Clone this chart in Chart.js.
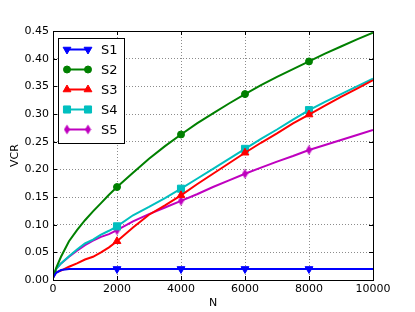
<!DOCTYPE html>
<html>
<head>
<meta charset="utf-8">
<script src="https://cdn.jsdelivr.net/npm/chart.js"></script>
<style>
    body { margin: 0; background: #fff; }
    #wrap { width: 415px; height: 312px; }
</style>
</head>
<body>
<div id="wrap"><canvas id="vcrChart" width="415" height="312"></canvas></div>
<script>
// data
const nValues = [0, 100, 250, 500, 750, 1000, 1250, 1500, 1750, 2000, 2500, 3000, 3500, 4000,
    4500, 5000, 5500, 6000, 6500, 7000, 7500, 8000, 8500, 9000, 9500, 10000];

const s1 = [0.004, 0.013, 0.018, 0.020, 0.020, 0.020, 0.020, 0.020, 0.020, 0.020, 0.020, 0.020, 0.020, 0.020,
    0.020, 0.020, 0.020, 0.020, 0.020, 0.020, 0.020, 0.020, 0.020, 0.020, 0.020, 0.020];
const s2 = [0.004, 0.022, 0.042, 0.070, 0.090, 0.108, 0.124, 0.139, 0.154, 0.168, 0.194, 0.219, 0.242, 0.263,
    0.283, 0.301, 0.319, 0.336, 0.352, 0.367, 0.381, 0.395, 0.409, 0.422, 0.435, 0.447];
const s3 = [0.004, 0.014, 0.017, 0.024, 0.030, 0.037, 0.042, 0.050, 0.059, 0.070, 0.095, 0.118, 0.135, 0.153,
    0.173, 0.192, 0.211, 0.230, 0.248, 0.265, 0.283, 0.299, 0.315, 0.331, 0.346, 0.361];
const s4 = [0.004, 0.020, 0.030, 0.043, 0.055, 0.066, 0.073, 0.082, 0.089, 0.097, 0.117, 0.132, 0.148, 0.165,
    0.183, 0.201, 0.219, 0.237, 0.255, 0.272, 0.290, 0.307, 0.322, 0.336, 0.350, 0.364];
const s5 = [0.004, 0.020, 0.030, 0.042, 0.053, 0.063, 0.071, 0.078, 0.083, 0.090, 0.106, 0.119, 0.131, 0.143,
    0.155, 0.168, 0.180, 0.192, 0.203, 0.214, 0.224, 0.235, 0.244, 0.253, 0.262, 0.271];

const seriesNames = ['S1', 'S2', 'S3', 'S4', 'S5'];
const markerAt = [2000, 4000, 6000, 8000];
const xTicks = [0, 2000, 4000, 6000, 8000, 10000];
const yTicks = [0, 0.05, 0.10, 0.15, 0.20, 0.25, 0.30, 0.35, 0.40, 0.45];


// thin diamond marker (matplotlib 'd')
function thinDiamond(color) {
    const c = document.createElement('canvas');
    c.width = 7;
    c.height = 11;
    const g = c.getContext('2d');
    g.fillStyle = color;
    g.beginPath();
    g.moveTo(3.5, 0.5);
    g.lineTo(6.5, 5.5);
    g.lineTo(3.5, 10.5);
    g.lineTo(0.5, 5.5);
    g.closePath();
    g.fill();
    return c;
}

const styles = [
    { color: '#0000ff', pointStyle: 'triangle', rotation: 180, radius: 4.5 },
    { color: '#008000', pointStyle: 'circle', rotation: 0, radius: 3.5 },
    { color: '#ff0000', pointStyle: 'triangle', rotation: 0, radius: 4.5 },
    { color: '#00bfbf', pointStyle: 'rect', rotation: 0, radius: 5 },
    { color: '#bf00bf', pointStyle: thinDiamond('#bf00bf'), rotation: 0, radius: 5 }
];

function makeDataset(name, values, st) {
    return {
        label: name,
        data: nValues.map((n, i) => ({ x: n, y: values[i] })),
        borderColor: st.color,
        backgroundColor: st.color,
        borderWidth: 2,
        pointStyle: st.pointStyle,
        rotation: st.rotation,
        pointRadius: nValues.map(n => markerAt.includes(n) ? st.radius : 0),
        pointBorderWidth: 1,
        pointHoverRadius: 0,
        tension: 0
    };
}

const allSeries = [s1, s2, s3, s4, s5];
const datasets = allSeries.map((vals, i) => makeDataset(seriesNames[i], vals, styles[i]));


// frame, inward ticks and legend box like matplotlib
const framePlugin = {
    id: 'frame',
    afterDraw(chart) {
        const ctx = chart.ctx;
        const a = chart.chartArea;
        const xs = chart.scales.x;
        const ys = chart.scales.y;
        ctx.save();
        ctx.strokeStyle = '#000';
        ctx.lineWidth = 1;
        ctx.strokeRect(Math.round(a.left) + 0.5, Math.round(a.top) + 0.5,
            Math.round(a.right - a.left), Math.round(a.bottom - a.top));
        ctx.beginPath();
        xTicks.forEach(v => {
            const px = Math.round(xs.getPixelForValue(v)) + 0.5;
            ctx.moveTo(px, a.bottom); ctx.lineTo(px, a.bottom - 4);
            ctx.moveTo(px, a.top); ctx.lineTo(px, a.top + 4);
        });
        yTicks.forEach(v => {
            const py = Math.round(ys.getPixelForValue(v)) + 0.5;
            ctx.moveTo(a.left, py); ctx.lineTo(a.left + 4, py);
            ctx.moveTo(a.right, py); ctx.lineTo(a.right - 4, py);
        });
        ctx.stroke();

        // legend
        const box = { x: 58.5, y: 38.5, w: 66, h: 105 };
        ctx.fillStyle = '#fff';
        ctx.fillRect(box.x, box.y, box.w, box.h);
        ctx.strokeRect(box.x, box.y, box.w, box.h);
        ctx.font = '13px "DejaVu Sans"';
        ctx.textBaseline = 'middle';
        datasets.forEach((ds, i) => {
            const y = 49.5 + i * 20;
            const st = styles[i];
            ctx.strokeStyle = st.color;
            ctx.fillStyle = st.color;
            ctx.lineWidth = 2;
            ctx.beginPath();
            ctx.moveTo(67, y);
            ctx.lineTo(88, y);
            ctx.stroke();
            [67, 88].forEach(px => {
                ctx.lineWidth = 1;
                Chart.helpers.drawPoint(ctx, {
                    pointStyle: st.pointStyle,
                    rotation: st.rotation,
                    radius: st.radius,
                    borderWidth: 1
                }, px, y);
            });
            ctx.fillStyle = '#000';
            ctx.fillText(ds.label, 101, y + 1);
        });
        ctx.restore();
    }
};

const gridStyle = {
    color: '#8c8c8c',
    lineWidth: 1,
    drawTicks: false
};
const gridBorder = { display: true, color: '#000', dash: [1, 2] };

new Chart(document.getElementById('vcrChart'), {
    type: 'line',
    data: { datasets: datasets },
    options: {
        responsive: false,
        animation: false,
        layout: { padding: { left: 0, right: 42, top: 31, bottom: 0 } },
        plugins: {
            legend: { display: false },
            tooltip: { enabled: false }
        },
        scales: {
            x: {
                type: 'linear',
                min: 0,
                max: 10000,
                afterBuildTicks: scale => { scale.ticks = xTicks.map(v => ({ value: v })); },
                afterFit: scale => { scale.height = 32; },
                grid: gridStyle,
                border: gridBorder,
                ticks: {
                    color: '#000',
                    font: { family: 'DejaVu Sans', size: 11 },
                    padding: 3,
                    maxRotation: 0,
                    callback: v => String(v)
                },
                title: {
                    display: true,
                    text: 'N',
                    color: '#000',
                    font: { family: 'DejaVu Sans', size: 11 },
                    padding: { top: 0, bottom: 2 }
                }
            },
            y: {
                type: 'linear',
                min: 0,
                max: 0.45,
                afterBuildTicks: scale => { scale.ticks = yTicks.map(v => ({ value: v })); },
                afterFit: scale => { scale.width = 53; },
                grid: gridStyle,
                border: gridBorder,
                ticks: {
                    color: '#000',
                    font: { family: 'DejaVu Sans', size: 11 },
                    padding: 4,
                    callback: v => v.toFixed(2)
                },
                title: {
                    display: true,
                    text: 'VCR',
                    color: '#000',
                    font: { family: 'DejaVu Sans', size: 11 },
                    padding: { top: 9, bottom: 0 }
                }
            }
        }
    },
    plugins: [framePlugin]
});
</script>
</body>
</html>
